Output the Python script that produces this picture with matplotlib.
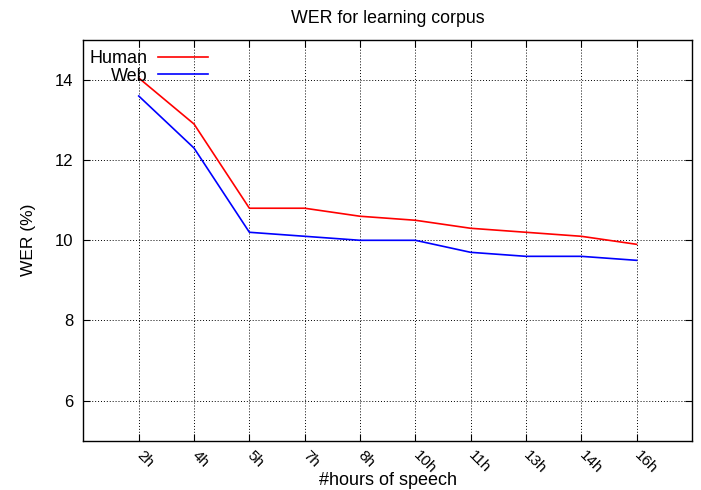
import matplotlib
matplotlib.use("Agg")
import matplotlib.pyplot as plt

# Hours of speech used for training and the resulting WER (%)
hours = ['2h', '4h', '5h', '7h', '8h', '10h', '11h', '13h', '14h', '16h']
wer_human = [14.05, 12.9, 10.8, 10.8, 10.6, 10.5, 10.3, 10.2, 10.1, 9.9]
wer_web = [13.6, 12.3, 10.2, 10.1, 10.0, 10.0, 9.7, 9.6, 9.6, 9.5]
y_ticks = [6, 8, 10, 12, 14]

plt.rcParams['font.family'] = ['Liberation Sans', 'DejaVu Sans']

fig = plt.figure(figsize=(7.01, 4.90), dpi=100)
ax = fig.add_axes([0.119, 0.1006, 0.868, 0.818])

x = list(range(len(hours)))
ax.plot(x, wer_human, color='#ff0000', lw=1.2, label='Human')
ax.plot(x, wer_web, color='#0000ff', lw=1.2, label='Web')

ax.set_xlim(-1, len(hours))
ax.set_ylim(5, 15)
ax.set_xticks(x)
ax.set_xticklabels(hours, rotation=-45, rotation_mode='anchor',
                   ha='left', va='center', fontsize=11)
ax.set_yticks(y_ticks)
ax.tick_params(direction='in', top=True, right=True, length=5, width=0.8)
ax.tick_params(axis='y', labelsize=12, pad=7.5)
ax.tick_params(axis='x', pad=9)

ax.grid(True, color='black', linestyle=(0, (1, 2)), linewidth=0.7)
for s in ax.spines.values():
    s.set_linewidth(1.0)

ax.set_title('WER for learning corpus', fontsize=12.8, pad=12)
ax.set_xlabel('#hours of speech', fontsize=13, labelpad=-3)
ax.set_ylabel('WER (%)', fontsize=12.5, labelpad=13)

leg = ax.legend(loc='upper left', bbox_to_anchor=(0.0, 0.99), frameon=False,
                markerfirst=False, fontsize=13, handlelength=2.8,
                handletextpad=0.55, labelspacing=0.02, borderaxespad=0.2,
                borderpad=0.15)

fig.savefig('out.png', dpi=100)
